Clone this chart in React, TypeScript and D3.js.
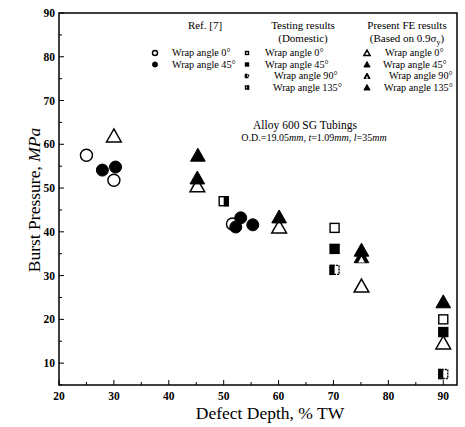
import React from "react";
import * as d3 from "d3";

const xTicks = [20, 30, 40, 50, 60, 70, 80, 90];
const yTicks = [10, 20, 30, 40, 50, 60, 70, 80, 90];

// Ref. [7]
const refOpen = [[25, 57.5], [30, 51.8], [51.6, 41.8]];
const refFilled = [[27.9, 54.1], [30.3, 54.8], [52.2, 41.1], [53.1, 43.2], [55.3, 41.6]];
// Testing results
const testW0 = [[70.2, 40.9], [90, 20]];
const testW45 = [[70.2, 36.1], [90, 17.1]];
const testW90 = [[70.2, 31.3], [90, 7.5]];
const testW135 = [[50, 47]];
// Present FE results
const feW0 = [[30, 61.9], [45.2, 50.5], [60.1, 41.1], [75.1, 27.6], [90, 14.6]];
const feW45 = [[45.2, 52.3], [60.1, 43.4], [75.1, 35.8], [90, 24]];
const feW90 = [[75.1, 34.3]];
const feW135 = [[45.3, 57.5]];

const W = 465, H = 427;
const L = 59, R = 457, T = 13, B = 385;
const x = d3.scaleLinear().domain([20, 92.5]).range([L, R]);
const y = d3.scaleLinear().domain([5, 90]).range([B, T]);

const font = "'Liberation Serif', 'DejaVu Serif', serif";

type Kind = "oc" | "fc" | "os" | "fs" | "hs" | "bs" | "ot" | "ft" | "ht";

function Sym({ kind, cx, cy, s = 1 }: { kind: Kind; cx: number; cy: number; s?: number }) {
  const r = 6 * s;
  const h = 5.2 * s;
  const tri = (k: number, dy = 0) => {
    const a = 7 * s * k;
    return `M${cx},${cy + dy - a}L${cx + a * 1.05},${cy + dy + a * 0.85}L${cx - a * 1.05},${cy + dy + a * 0.85}Z`;
  };
  switch (kind) {
    case "oc":
      return <circle cx={cx} cy={cy} r={r} fill="#fff" stroke="#000" strokeWidth={1.4} />;
    case "fc":
      return <circle cx={cx} cy={cy} r={r} fill="#000" stroke="#000" strokeWidth={1} />;
    case "os":
      return <rect x={cx - h + 0.7} y={cy - h + 0.7} width={2 * h - 1.4} height={2 * h - 1.4} fill="#fff" stroke="#000" strokeWidth={1.4} />;
    case "fs":
      return <rect x={cx - h} y={cy - h} width={2 * h} height={2 * h} fill="#000" />;
    case "hs":
      return (
        <g>
          <rect x={cx - h + 0.7} y={cy - h + 0.7} width={2 * h - 1.4} height={2 * h - 1.4} fill="#fff" stroke="#000" strokeWidth={1.4} strokeDasharray="2,1" />
          <rect x={cx - h} y={cy - h} width={h} height={2 * h} fill="#000" />
        </g>
      );
    case "bs":
      return (
        <g>
          <rect x={cx - h + 0.7} y={cy - h + 0.7} width={2 * h - 1.4} height={2 * h - 1.4} fill="#fff" stroke="#000" strokeWidth={1.4} />
          <rect x={cx} y={cy - h} width={h} height={2 * h} fill="#000" />
        </g>
      );
    case "ot":
      return <path d={tri(1)} fill="#fff" stroke="#000" strokeWidth={1.5} />;
    case "ft":
      return <path d={tri(1)} fill="#000" stroke="#000" strokeWidth={1} />;
    case "ht":
      return (
        <g>
          <path d={tri(1)} fill="#000" stroke="#000" strokeWidth={1} />
          <path d={tri(0.45, 3 * s)} fill="#fff" />
        </g>
      );
  }
  return null;
}

export default function App() {
  const yMinor = d3.range(5, 91, 5);
  const xMinor = d3.range(20, 92.5, 5);
  const series: [number[][], Kind][] = [
    [refOpen, "oc"], [refFilled, "fc"],
    [testW0, "os"], [testW45, "fs"], [testW90, "hs"], [testW135, "bs"],
    [feW0, "ot"], [feW90, "ht"], [feW45, "ft"], [feW135, "ft"],
  ];
  const legendRows: { kind: Kind; label: string; sx: number; tx: number; row: number }[] = [
    { kind: "oc", label: "Wrap angle 0°", sx: 155, tx: 172, row: 0 },
    { kind: "fc", label: "Wrap angle 45°", sx: 155, tx: 172, row: 1 },
    { kind: "os", label: "Wrap angle 0°", sx: 247, tx: 265, row: 0 },
    { kind: "fs", label: "Wrap angle 45°", sx: 247, tx: 265, row: 1 },
    { kind: "hs", label: "Wrap angle 90°", sx: 247, tx: 274, row: 2 },
    { kind: "bs", label: "Wrap angle 135°", sx: 247, tx: 273, row: 3 },
    { kind: "ot", label: "Wrap angle 0°", sx: 367, tx: 385, row: 0 },
    { kind: "ft", label: "Wrap angle 45°", sx: 367, tx: 383, row: 1 },
    { kind: "ht", label: "Wrap angle 90°", sx: 367, tx: 389, row: 2 },
    { kind: "ft", label: "Wrap angle 135°", sx: 367, tx: 384, row: 3 },
  ];
  const rowY = [53, 64.5, 76, 87.5];
  return (
    <svg width={W} height={H} style={{ display: "block", position: "absolute", left: 0, top: 0 }} fontFamily={font}>
      <rect width={W} height={H} fill="#fff" />
      {/* frame */}
      <rect x={L} y={T} width={R - L} height={B - T} fill="none" stroke="#000" strokeWidth={1.5} />
      {/* y ticks */}
      {yMinor.map((v) => (
        <line key={"ym" + v} x1={L} x2={L + (v % 10 === 0 ? 5 : 3)} y1={y(v)} y2={y(v)} stroke="#000" strokeWidth={1} />
      ))}
      {yTicks.map((v) => (
        <text key={"yl" + v} x={L - 4} y={y(v)} dy="0.35em" textAnchor="end" fontSize={11.5} fontWeight="bold">{v}</text>
      ))}
      {/* x ticks */}
      {xMinor.map((v) => (
        <line key={"xm" + v} x1={x(v)} x2={x(v)} y1={B} y2={B - (v % 10 === 0 ? 5 : 3)} stroke="#000" strokeWidth={1} />
      ))}
      {xTicks.map((v) => (
        <text key={"xl" + v} x={x(v)} y={400} textAnchor="middle" fontSize={11.5} fontWeight="bold">{v}</text>
      ))}
      {/* axis titles */}
      <text x={270} y={419} textAnchor="middle" fontSize={17.5}>Defect Depth, % TW</text>
      <text transform={`translate(40 200) rotate(-90)`} textAnchor="middle" fontSize={17.5}>
        Burst Pressure, <tspan fontStyle="italic">MPa</tspan>
      </text>
      {/* legend */}
      <text x={205} y={29} textAnchor="middle" fontSize={11}>Ref. [7]</text>
      <text x={303} y={29} textAnchor="middle" fontSize={11}>Testing results</text>
      <text x={303} y={42} textAnchor="middle" fontSize={11}>(Domestic)</text>
      <text x={407} y={29} textAnchor="middle" fontSize={11}>Present FE results</text>
      <text x={407} y={42} textAnchor="middle" fontSize={11}>(Based on 0.9σ<tspan dy={3} fontSize={8}>y</tspan><tspan dy={-3}>)</tspan></text>
      {legendRows.map((r, i) => (
        <g key={"lg" + i}>
          <Sym kind={r.kind} cx={r.sx} cy={rowY[r.row]} s={0.42} />
          <text x={r.tx} y={rowY[r.row]} dy="0.33em" fontSize={10.2}>{r.label}</text>
        </g>
      ))}
      {/* annotation */}
      <text x={305} y={129} textAnchor="middle" fontSize={11.5}>Alloy 600 SG Tubings</text>
      <text x={314} y={141} textAnchor="middle" fontSize={10}>
        O.D.=19.05<tspan fontStyle="italic">mm</tspan>,  <tspan fontStyle="italic">t</tspan>=1.09<tspan fontStyle="italic">mm</tspan>,  <tspan fontStyle="italic">l</tspan>=35<tspan fontStyle="italic">mm</tspan>
      </text>
      {/* data */}
      {series.map(([pts, kind], si) =>
        pts.map((p, i) => <Sym key={`p${si}-${i}`} kind={kind} cx={x(p[0])} cy={y(p[1])} />)
      )}
    </svg>
  );
}
